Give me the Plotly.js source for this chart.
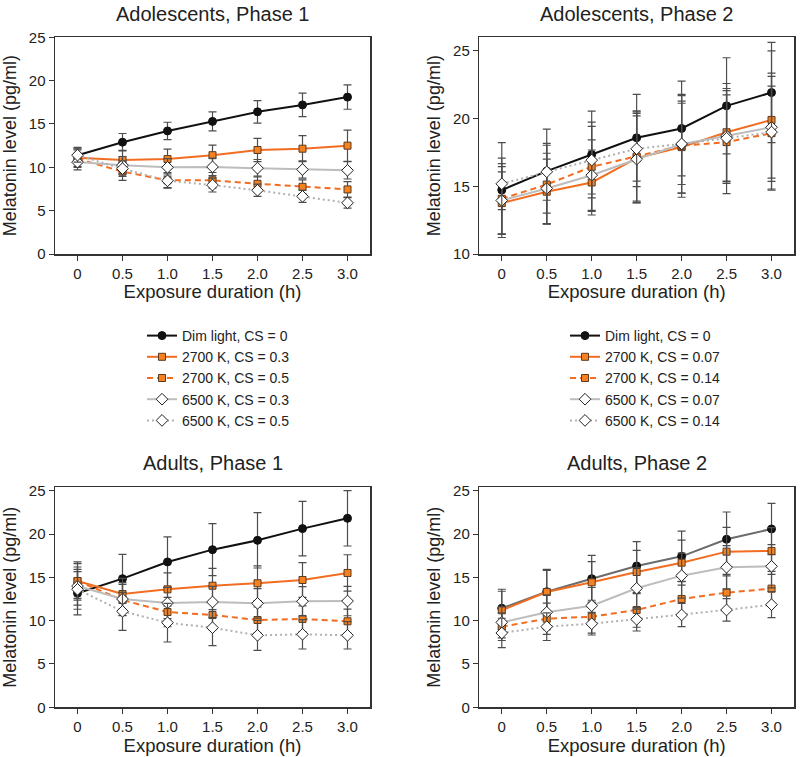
<!DOCTYPE html>
<html>
<head>
<meta charset="utf-8">
<script src="https://cdn.plot.ly/plotly-3.0.1.min.js"></script>
<style>html,body{margin:0;padding:0;background:#fff;}#chart{width:800px;height:757px;}</style>
</head>
<body>
<div id="chart"></div>
<script>
// ---- Data ----
const hours = [0, 0.5, 1.0, 1.5, 2.0, 2.5, 3.0];
const hourLabels = ['0', '0.5', '1.0', '1.5', '2.0', '2.5', '3.0'];
const panelTitles = ['Adolescents, Phase 1', 'Adolescents, Phase 2', 'Adults, Phase 1', 'Adults, Phase 2'];
const namesPhase1 = ['Dim light, CS = 0', '2700 K, CS = 0.3', '2700 K, CS = 0.5', '6500 K, CS = 0.3', '6500 K, CS = 0.5'];
const namesPhase2 = ['Dim light, CS = 0', '2700 K, CS = 0.07', '2700 K, CS = 0.14', '6500 K, CS = 0.07', '6500 K, CS = 0.14'];

// Adolescents, Phase 1
const adoP1_dim   = [11.4, 12.9, 14.2, 15.3, 16.4, 17.2, 18.1];
const adoP1_dimE  = [0.9, 1.0, 1.0, 1.1, 1.3, 1.35, 1.4];
const adoP1_o1    = [11.1, 10.85, 10.95, 11.4, 12.0, 12.15, 12.5];
const adoP1_o1E   = [1.0, 1.1, 1.15, 1.15, 1.35, 1.5, 1.8];
const adoP1_o2    = [11.0, 9.5, 8.5, 8.5, 8.1, 7.75, 7.45];
const adoP1_o2E   = [1.0, 1.0, 0.9, 0.9, 0.9, 0.8, 0.9];
const adoP1_g1    = [10.6, 10.25, 10.0, 10.05, 9.9, 9.75, 9.65];
const adoP1_g1E   = [0.9, 1.0, 1.0, 1.0, 1.0, 1.0, 1.0];
const adoP1_g2    = [11.4, 9.85, 8.45, 7.95, 7.35, 6.65, 5.9];
const adoP1_g2E   = [0.8, 0.9, 0.8, 0.8, 0.7, 0.7, 0.6];

// Adolescents, Phase 2
const adoP2_dim   = [14.72, 16.12, 17.35, 18.58, 19.27, 20.94, 21.92];
const adoP2_dimE  = [3.5, 3.1, 3.2, 3.2, 3.5, 3.55, 3.7];
const adoP2_o1    = [13.76, 14.6, 15.28, 17.08, 17.89, 18.99, 19.9];
const adoP2_o1E   = [2.3, 2.4, 2.4, 3.3, 3.4, 3.6, 5.1];
const adoP2_o2    = [14.08, 15.13, 16.44, 17.2, 17.99, 18.26, 18.92];
const adoP2_o2E   = [2.6, 2.9, 3.3, 3.3, 3.8, 3.8, 4.2];
const adoP2_g1    = [13.95, 14.84, 15.82, 17.0, 18.1, 18.72, 19.36];
const adoP2_g1E   = [2.5, 2.6, 2.6, 3.2, 3.6, 3.5, 4.0];
const adoP2_g2    = [15.18, 16.07, 16.93, 17.77, 18.13, 18.55, 19.0];
const adoP2_g2E   = [1.9, 2.1, 2.5, 2.8, 3.0, 3.2, 3.4];

// Adults, Phase 1
const adP1_dim    = [13.16, 14.85, 16.78, 18.2, 19.28, 20.63, 21.82];
const adP1_dimE   = [2.5, 2.8, 2.9, 3.0, 3.2, 3.15, 3.2];
const adP1_o1     = [14.58, 13.08, 13.62, 14.04, 14.32, 14.7, 15.51];
const adP1_o1E    = [2.2, 1.8, 1.9, 2.0, 2.0, 2.0, 2.1];
const adP1_o2     = [14.58, 12.39, 11.0, 10.66, 10.08, 10.2, 9.93];
const adP1_o2E    = [2.0, 1.8, 1.7, 1.7, 1.5, 1.5, 1.4];
const adP1_g1     = [14.0, 12.5, 12.04, 12.16, 12.0, 12.24, 12.27];
const adP1_g1E    = [2.2, 1.9, 1.8, 1.8, 1.7, 1.7, 1.7];
const adP1_g2     = [13.62, 11.08, 9.77, 9.19, 8.31, 8.43, 8.31];
const adP1_g2E    = [2.3, 2.2, 2.23, 2.08, 1.73, 1.7, 1.58];

// Adults, Phase 2
const adP2_dim    = [11.43, 13.35, 14.85, 16.32, 17.43, 19.4, 20.59];
const adP2_dimE   = [2.2, 2.58, 2.7, 2.8, 2.9, 3.15, 2.96];
const adP2_o1     = [11.2, 13.31, 14.43, 15.62, 16.7, 17.97, 18.05];
const adP2_o1E    = [2.2, 2.5, 2.4, 2.5, 2.6, 2.8, 2.7];
const adP2_o2     = [9.31, 10.23, 10.46, 11.24, 12.51, 13.24, 13.7];
const adP2_o2E    = [1.6, 1.8, 1.9, 2.0, 2.0, 2.1, 2.0];
const adP2_g1     = [9.81, 10.97, 11.73, 13.74, 15.2, 16.17, 16.28];
const adP2_g1E    = [1.8, 2.0, 2.1, 2.4, 2.6, 2.5, 2.5];
const adP2_g2     = [8.58, 9.31, 9.65, 10.16, 10.66, 11.24, 11.85];
const adP2_g2E    = [1.7, 1.6, 1.3, 1.35, 1.35, 1.3, 1.5];

// ---- Styles ----
const ORANGE_LINE = '#f26d21';
const ORANGE_FILL = '#f5821f';
const styles = [
  {line: {color: '#111111', width: 2, dash: 'solid'}, marker: {symbol: 'circle', size: 8, color: '#111111', line: {color: '#111111', width: 1}}},
  {line: {color: ORANGE_LINE, width: 2, dash: 'solid'}, marker: {symbol: 'square', size: 7, color: ORANGE_FILL, line: {color: '#5a3b22', width: 1}}},
  {line: {color: ORANGE_LINE, width: 2, dash: '6px,4px'}, marker: {symbol: 'square', size: 7, color: ORANGE_FILL, line: {color: '#5a3b22', width: 1}}},
  {line: {color: '#bdbdbd', width: 2, dash: 'solid'}, marker: {symbol: 'diamond', size: 9, color: '#ffffff', line: {color: '#222222', width: 1}}},
  {line: {color: '#b0b0b0', width: 2, dash: '2px,3px'}, marker: {symbol: 'diamond', size: 9, color: '#ffffff', line: {color: '#222222', width: 1}}}
];

const panels = [
  {xa: 'x', ya: 'y', names: namesPhase1, legend: 'legend', show: true,
   series: [[adoP1_dim, adoP1_dimE], [adoP1_o1, adoP1_o1E], [adoP1_o2, adoP1_o2E], [adoP1_g1, adoP1_g1E], [adoP1_g2, adoP1_g2E]]},
  {xa: 'x2', ya: 'y2', names: namesPhase2, legend: 'legend2', show: true,
   series: [[adoP2_dim, adoP2_dimE], [adoP2_o1, adoP2_o1E], [adoP2_o2, adoP2_o2E], [adoP2_g1, adoP2_g1E], [adoP2_g2, adoP2_g2E]]},
  {xa: 'x3', ya: 'y3', names: namesPhase1, legend: 'legend', show: false,
   series: [[adP1_dim, adP1_dimE], [adP1_o1, adP1_o1E], [adP1_o2, adP1_o2E], [adP1_g1, adP1_g1E], [adP1_g2, adP1_g2E]]},
  {xa: 'x4', ya: 'y4', names: namesPhase2, legend: 'legend2', show: false, dimLine: '#6b6b6b',
   series: [[adP2_dim, adP2_dimE], [adP2_o1, adP2_o1E], [adP2_o2, adP2_o2E], [adP2_g1, adP2_g1E], [adP2_g2, adP2_g2E]]}
];

const traces = [];
panels.forEach(p => {
  p.series.forEach((s, i) => {
    const st = styles[i];
    const line = Object.assign({}, st.line);
    if (i === 0 && p.dimLine) line.color = p.dimLine;
    traces.push({
      type: 'scatter', mode: 'lines+markers',
      x: hours, y: s[0], name: p.names[i],
      xaxis: p.xa, yaxis: p.ya, legend: p.legend, showlegend: p.show,
      line: line, marker: st.marker,
      error_y: {type: 'data', array: s[1], visible: true, color: '#4d4d4d', thickness: 1.2, width: 4}
    });
  });
});

const W = 800, H = 757;
const px = v => v / W;
const py = v => 1 - v / H;
const fontFam = 'Liberation Sans, Arial, sans-serif';

function xAxis(l, r, anchor) {
  return {
    domain: [px(l), px(r)], anchor: anchor, range: [-0.25, 3.25],
    tickvals: hours, ticktext: hourLabels,
    showline: true, mirror: true, linecolor: '#333333', linewidth: 1.5,
    ticks: 'outside', ticklen: 5, tickcolor: '#333333', showgrid: false, zeroline: false,
    tickfont: {size: 15, color: '#222', family: fontFam},
    title: {text: 'Exposure duration (h)', font: {size: 18.5, color: '#222', family: fontFam}, standoff: 3}
  };
}
function yAxis(t, b, anchor, range, tv) {
  return {
    domain: [py(b), py(t)], anchor: anchor, range: range, tickvals: tv,
    showline: true, mirror: true, linecolor: '#333333', linewidth: 1.5,
    ticks: 'outside', ticklen: 5, tickcolor: '#333333', showgrid: false, zeroline: false,
    tickfont: {size: 15, color: '#222', family: fontFam},
    title: {text: 'Melatonin level (pg/ml)', font: {size: 18, color: '#222', family: fontFam}, standoff: 8}
  };
}

const layout = {
  width: W, height: H,
  margin: {l: 0, r: 0, t: 0, b: 0},
  paper_bgcolor: '#ffffff', plot_bgcolor: '#ffffff',
  font: {family: fontFam, color: '#222'},
  xaxis: xAxis(55, 370, 'y'),
  yaxis: yAxis(37.3, 254, 'x', [0, 25], [0, 5, 10, 15, 20, 25]),
  xaxis2: xAxis(479.3, 794, 'y2'),
  yaxis2: yAxis(37.3, 254, 'x2', [10, 26], [10, 15, 20, 25]),
  xaxis3: xAxis(55, 370, 'y3'),
  yaxis3: yAxis(487.3, 707.3, 'x3', [0, 25.4], [0, 5, 10, 15, 20, 25]),
  xaxis4: xAxis(479.3, 794, 'y4'),
  yaxis4: yAxis(487.3, 707.3, 'x4', [0, 25.4], [0, 5, 10, 15, 20, 25]),
  legend: {x: px(142), xanchor: 'left', y: py(320), yanchor: 'top', bgcolor: 'rgba(0,0,0,0)',
           font: {size: 14, color: '#222', family: fontFam}, tracegroupgap: 0},
  legend2: {x: px(565), xanchor: 'left', y: py(320), yanchor: 'top', bgcolor: 'rgba(0,0,0,0)',
           font: {size: 14, color: '#222', family: fontFam}, tracegroupgap: 0},
  annotations: [
    {text: panelTitles[0], x: px(212.5), y: py(14), xref: 'paper', yref: 'paper', xanchor: 'center', yanchor: 'middle', showarrow: false, font: {size: 20, color: '#222', family: fontFam}},
    {text: panelTitles[1], x: px(636.7), y: py(14), xref: 'paper', yref: 'paper', xanchor: 'center', yanchor: 'middle', showarrow: false, font: {size: 20, color: '#222', family: fontFam}},
    {text: panelTitles[2], x: px(212.5), y: py(463), xref: 'paper', yref: 'paper', xanchor: 'center', yanchor: 'middle', showarrow: false, font: {size: 20, color: '#222', family: fontFam}},
    {text: panelTitles[3], x: px(636.7), y: py(463), xref: 'paper', yref: 'paper', xanchor: 'center', yanchor: 'middle', showarrow: false, font: {size: 20, color: '#222', family: fontFam}}
  ]
};

Plotly.newPlot('chart', traces, layout, {displayModeBar: false, staticPlot: true});
</script>
</body>
</html>
